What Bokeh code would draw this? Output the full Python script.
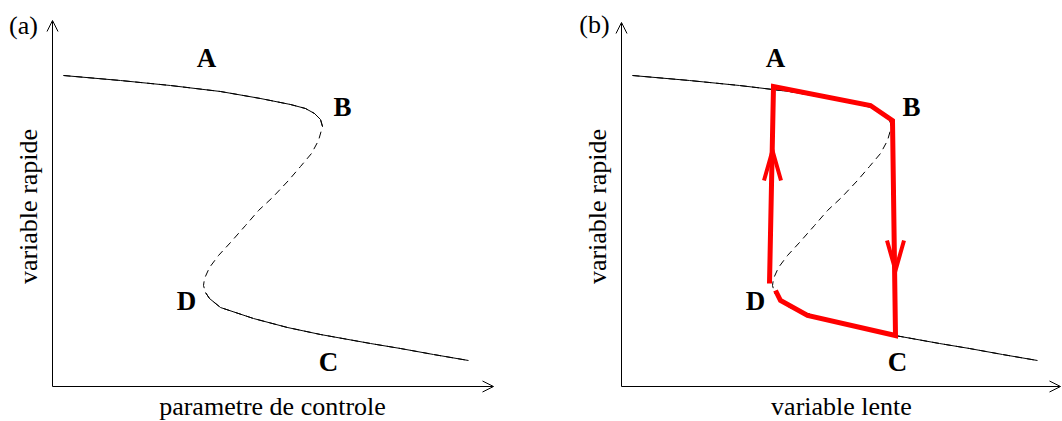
import math
from bokeh.plotting import figure
from bokeh.layouts import row
from bokeh.models import Range1d, Arrow, OpenHead
from bokeh.core.properties import value
from bokeh.embed import file_html
from bokeh.resources import INLINE

# ---- data (x: control parameter / slow variable, y: fast variable) ----
upper_x = [11, 68, 118, 168, 208, 238, 253, 262, 268, 270]
upper_y = [311, 306, 301, 295, 288, 282, 278, 273, 267, 260]
middle_x = [266, 259, 248, 236, 220, 206, 193, 178, 166, 157, 152, 151]
middle_y = [246, 233, 220, 206, 189, 176, 161, 144, 131, 119, 108, 101]
lower_x = [153, 157, 168, 201, 235, 268, 318, 348, 381, 416]
lower_y = [94, 88, 79, 68, 59, 52, 43, 38, 32, 26]

point_names = ["A", "B", "C", "D"]
point_x = [154, 290, 276, 134]
point_y = [329, 280, 25, 86]

cycle_x = [148, 152, 249, 271, 274, 186, 159, 154]
cycle_y = [103, 300, 281, 266, 51, 71, 86, 96]
flow_tip_x = [151, 274]
flow_tip_y = [236, 116]
flow_dir = [1, -1]

panel_tags = ["(a)", "(b)"]
tag_x = [-29, -27]
tag_y = [361, 362]
x_titles = ["parametre de controle", "variable lente"]
x_title_x, x_title_y = 220, -20
y_title = "variable rapide"
y_title_x, y_title_y = -24, 180
axis_x_end = [441, 439]
axis_y_end = [366, 364]

SERIF = "Liberation Serif"
Y_LO, Y_HI = -35, 386          # 421 px tall
PANEL_LEFT = -52               # space left of the vertical axis
PANEL_W = [569, 493]


def make_panel(i):
    w = PANEL_W[i]
    p = figure(width=w, height=Y_HI - Y_LO,
               x_range=Range1d(PANEL_LEFT, PANEL_LEFT + w), y_range=Range1d(Y_LO, Y_HI),
               output_backend="svg", toolbar_location=None, min_border=0)
    p.min_border_left = p.min_border_right = p.min_border_top = p.min_border_bottom = 0
    p.outline_line_color = None
    p.grid.visible = False
    p.axis.visible = False
    p.background_fill_color = "white"
    p.border_fill_color = "white"

    # axes drawn as arrows
    p.add_layout(Arrow(end=OpenHead(size=11, line_width=1, line_color="black"),
                       x_start=0, y_start=0, x_end=axis_x_end[i], y_end=0,
                       line_color="black", line_width=1))
    p.add_layout(Arrow(end=OpenHead(size=11, line_width=1, line_color="black"),
                       x_start=0, y_start=0, x_end=0, y_end=axis_y_end[i],
                       line_color="black", line_width=1))

    # axis titles and panel tag
    p.text([x_title_x], [x_title_y], text=[x_titles[i]], text_font=value(SERIF),
           text_font_size="26px", text_align="center", text_baseline="middle",
           text_color="black")
    p.text([y_title_x], [y_title_y], text=[y_title], angle=math.pi / 2,
           text_font=value(SERIF), text_font_size="26px", text_align="center",
           text_baseline="middle", text_color="black")
    p.text([tag_x[i]], [tag_y[i]], text=[panel_tags[i]], text_font=value(SERIF),
           text_font_size="26px", text_align="center", text_baseline="middle",
           text_color="black")

    # S-shaped curve: full dashed, stable branches solid
    p.line(upper_x + middle_x + lower_x, upper_y + middle_y + lower_y,
           line_color="black", line_width=1, line_dash="7 5")
    p.line(upper_x, upper_y, line_color="black", line_width=1)
    p.line(lower_x, lower_y, line_color="black", line_width=1)

    p.text(point_x, point_y, text=point_names, text_font=value(SERIF),
           text_font_style="bold", text_font_size="27px",
           text_align="center", text_baseline="middle", text_color="black")
    return p


pa = make_panel(0)
pb = make_panel(1)

# relaxation cycle on panel (b)
pb.line(cycle_x, cycle_y, line_color="red", line_width=5, line_join="miter")
HEAD_LEN, HEAD_HALF = 30, 8.5
xs = [[tx - HEAD_HALF, tx, tx + HEAD_HALF] for tx in flow_tip_x]
ys = [[ty - d * HEAD_LEN, ty, ty - d * HEAD_LEN] for ty, d in zip(flow_tip_y, flow_dir)]
pb.multi_line(xs, ys, line_color="red", line_width=4, line_join="miter")

layout = row(pa, pb)
open("out.html", "w").write(file_html(layout, INLINE))
